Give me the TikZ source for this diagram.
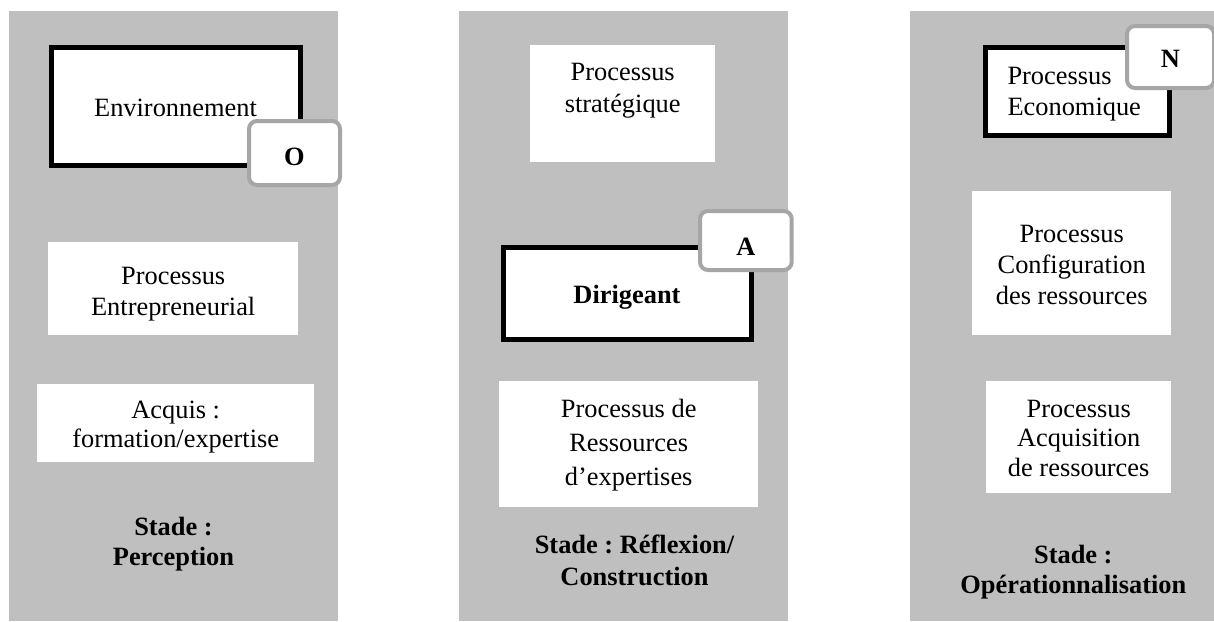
\documentclass[tikz,border=0pt]{standalone}
\usepackage{fontspec}
\setmainfont{Liberation Serif}
\frenchspacing
\definecolor{colgray}{HTML}{BFBFBF}
\definecolor{badgegray}{HTML}{A6A6A6}
\newcommand{\fs}[1]{\fontsize{26.4}{#1}\selectfont}
\begin{document}
\begin{tikzpicture}[x=1pt,y=-1pt,
  column/.style={fill=colgray, draw=none},
  wbox/.style={rectangle, fill=white, draw=none, inner xsep=0pt, inner ysep=0pt, align=center, anchor=north west},
  kbox/.style={wbox, draw=black, line width=5pt},
  badge/.style={rectangle, rounded corners=8pt, fill=white, draw=badgegray, line width=4pt,
                inner xsep=0pt, inner ysep=0pt, anchor=north west, font=\fs{31}\bfseries},
  stage/.style={align=center, inner ysep=0pt, text height=20pt, anchor=north, font=\fs{31}\bfseries}
]
\useasboundingbox (0,0) rectangle (1214,621);
\fill[white] (0,0) rectangle (1214,621);

% columns
\fill[column] (9,11) rectangle (338,621);
\fill[column] (459,11) rectangle (788,621);
\fill[column] (910,11) rectangle (1214,621);

% column 1
\node[kbox, font=\fs{31}, minimum width=249pt, text height=69pt, text depth=49pt] (env) at (48.5,44.5) {Environnement};
\node[badge, minimum width=91pt, text height=44pt, text depth=20pt] (o) at (247,119) {O};
\node[wbox, font=\fs{31}, minimum width=250pt, text height=73pt, text depth=20pt] (pent) at (48,242) {Processus\\Entrepreneurial};
\node[wbox, font=\fs{29.5}, minimum width=277pt, text height=63.5pt, text depth=14.5pt] (acq) at (37,384) {Acquis :\\formation/expertise};
\node[stage, font=\fs{30}\bfseries] (s1) at (173.5,545) {Stade :\\Perception};

% column 2
\node[wbox, font=\fs{32}, minimum width=185pt, text height=67pt, text depth=50pt] (pstr) at (530,45) {Processus\\strat\'egique};
\node[kbox, font=\fs{31}\bfseries, minimum width=248pt, text height=56pt, text depth=36pt] (dir) at (500.5,245) {Dirigeant};
\node[badge, minimum width=91.7pt, text height=44pt, text depth=15pt] (a) at (698,209) {A};
\node[wbox, font=\fs{34}, minimum width=259pt, text height=104pt, text depth=22pt] (pres) at (499,381) {Processus de\\Ressources\\d'expertises};
\node[stage, font=\fs{31.7}\bfseries] (s2) at (634.5,565) {Stade : R\'eflexion/\\Construction};

% column 3
\node[kbox, font=\fs{31}, align=left, inner xsep=22pt, text width=140pt, text height=37pt, text depth=51pt] (peco) at (983,45) {Processus\\Economique};
\node[badge, minimum width=87pt, text height=41pt, text depth=21pt] (n) at (1125,24) {N};
\node[wbox, font=\fs{31}, minimum width=199pt, text height=113pt, text depth=31pt] (pconf) at (972,191) {Processus\\Configuration\\des ressources};
\node[wbox, font=\fs{29.7}, minimum width=185pt, text height=95.4pt, text depth=16.6pt] (pacq) at (986,381) {Processus\\Acquisition\\de ressources};
\node[stage, font=\fs{30}\bfseries] (s3) at (1073.3,573.3) {Stade :\\Op\'erationnalisation};
\end{tikzpicture}
\end{document}
